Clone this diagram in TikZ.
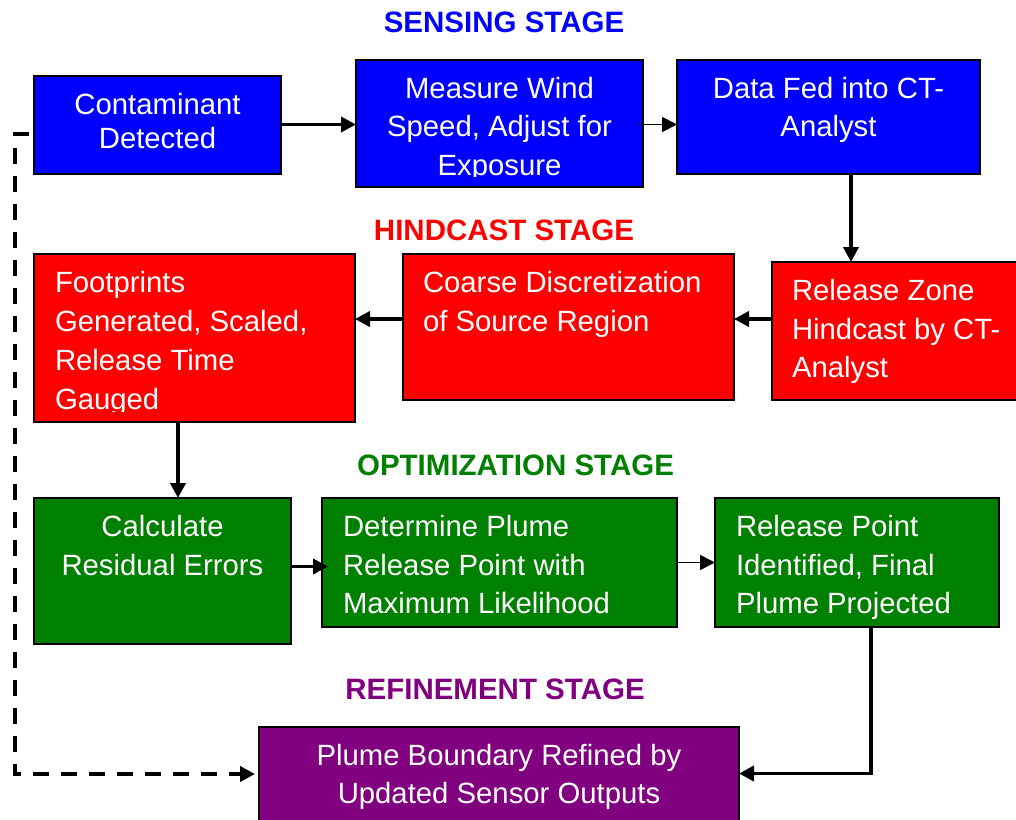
\documentclass[tikz,border=0pt]{standalone}
\usepackage{fontspec}
\setmainfont{Liberation Sans}
\usetikzlibrary{arrows.meta}
\definecolor{sgreen}{RGB}{0,128,0}
\definecolor{spurple}{RGB}{128,0,128}
\tikzset{
  x=1pt,y=-1pt,
  stagebox/.style={draw=black,line width=2pt,text=white,inner sep=0pt,outer sep=0pt,anchor=north west},
  stagetitle/.style={font=\fontsize{29.5}{35}\bfseries\selectfont,inner sep=0pt,anchor=base},
  flow/.style={line width=3.8pt,-{Triangle[length=15pt,width=15pt]},black},
  thinflow/.style={line width=1.6pt,-{Triangle[length=15pt,width=15pt]},black},
  backflow/.style={line width=3.8pt,dash pattern=on 16pt off 12pt,-{Triangle[length=15pt,width=15pt]},black},
}
% name, x0, y0, x1, y1, colour, alignment+indent, first baseline offset, text
\newcommand{\stbox}[9]{%
  \pgfmathsetlengthmacro{\bw}{#4-#2}\pgfmathsetlengthmacro{\bh}{#5-#3}%
  \node[stagebox,fill=#6] (#1) at (#2,#3)
   {\parbox[c][\bh][t]{\bw}{\fontsize{29.3}{38.8}\selectfont #7\rule{0pt}{#8pt}#9}};}
\newcommand{\cen}{\centering}
\begin{document}
\begin{tikzpicture}
\useasboundingbox (0,0) rectangle (1016,819);
\node[stagetitle,text=blue] (t1) at (504,32) {SENSING STAGE};
\node[stagetitle,text=red] (t2) at (504,240) {HINDCAST STAGE};
\node[stagetitle,text=sgreen] (t3) at (515.5,475) {OPTIMIZATION STAGE};
\node[stagetitle,text=spurple] (t4) at (495,699) {REFINEMENT STAGE};

\stbox{a1}{34}{76}{281}{174}{blue}{\cen\baselineskip=34pt }{38}{Contaminant\\Detected}
\stbox{a2}{356}{60}{643}{187}{blue}{\cen}{38}{Measure Wind\\Speed, Adjust for\\Exposure}
\stbox{a3}{677}{60}{980}{174}{blue}{\cen}{38}{Data Fed into CT-\\Analyst}
\stbox{b1}{772}{262}{1030}{400}{red}{\raggedright\leftskip=20pt }{38.2}{Release Zone\\Hindcast by CT-\\Analyst}
\stbox{b2}{403}{254}{734}{400}{red}{\raggedright\leftskip=20pt }{38.2}{Coarse Discretization\\of Source Region}
\stbox{b3}{34}{254}{355}{422}{red}{\raggedright\leftskip=21pt\baselineskip=39.1pt }{38.2}{Footprints\\Generated, Scaled,\\Release Time\\Gauged}
\stbox{c1}{34}{498}{291}{644}{sgreen}{\cen}{38.2}{Calculate\\Residual Errors}
\stbox{c2}{322}{498}{677}{627}{sgreen}{\raggedright\leftskip=21pt }{38.2}{Determine Plume\\Release Point with\\Maximum Likelihood}
\stbox{c3}{715}{498}{999}{627}{sgreen}{\raggedright\leftskip=21pt }{38.2}{Release Point\\Identified, Final\\Plume Projected}
\stbox{d1}{259}{727}{739}{835}{spurple}{\cen}{38}{Plume Boundary Refined by\\Updated Sensor Outputs}

% the reference cuts off the descenders of these two last lines
\fill[blue] (358,177) rectangle (642,186);
\fill[red] (36,411.5) rectangle (354,421);

\coordinate (fr) at (15,134);
\coordinate (fc) at (15,774);
\coordinate (tstart) at (638,124.5);
\coordinate (bcorner) at (871,773.5);
\draw[flow] (a1.east|-0,124.5) -- (a2.west|-0,124.5);
\draw[thinflow] (tstart) -- (a3.west|-tstart);
\draw[flow] (a3.south-|851,0) -- (b1.north-|851,0);
\draw[flow] (b1.west|-0,319) -- (b2.east|-0,319);
\draw[flow] (b2.west|-0,319) -- (b3.east|-0,319);
\draw[flow] (b3.south-|178,0) -- (c1.north-|178,0);
\draw[flow] (c1.east|-0,566.5) -- ([xshift=6pt]c2.west|-0,566.5);
\draw[thinflow] (c2.east|-0,562.5) -- (c3.west|-0,562.5);
\draw[flow] (c3.south-|bcorner) -- (bcorner) -- (d1.east|-bcorner);
\draw[backflow] (a1.west|-fr) ++(-5,0) -- (fr) -- (fc) -- ([xshift=-4pt]d1.west|-fc);
\end{tikzpicture}
\end{document}
